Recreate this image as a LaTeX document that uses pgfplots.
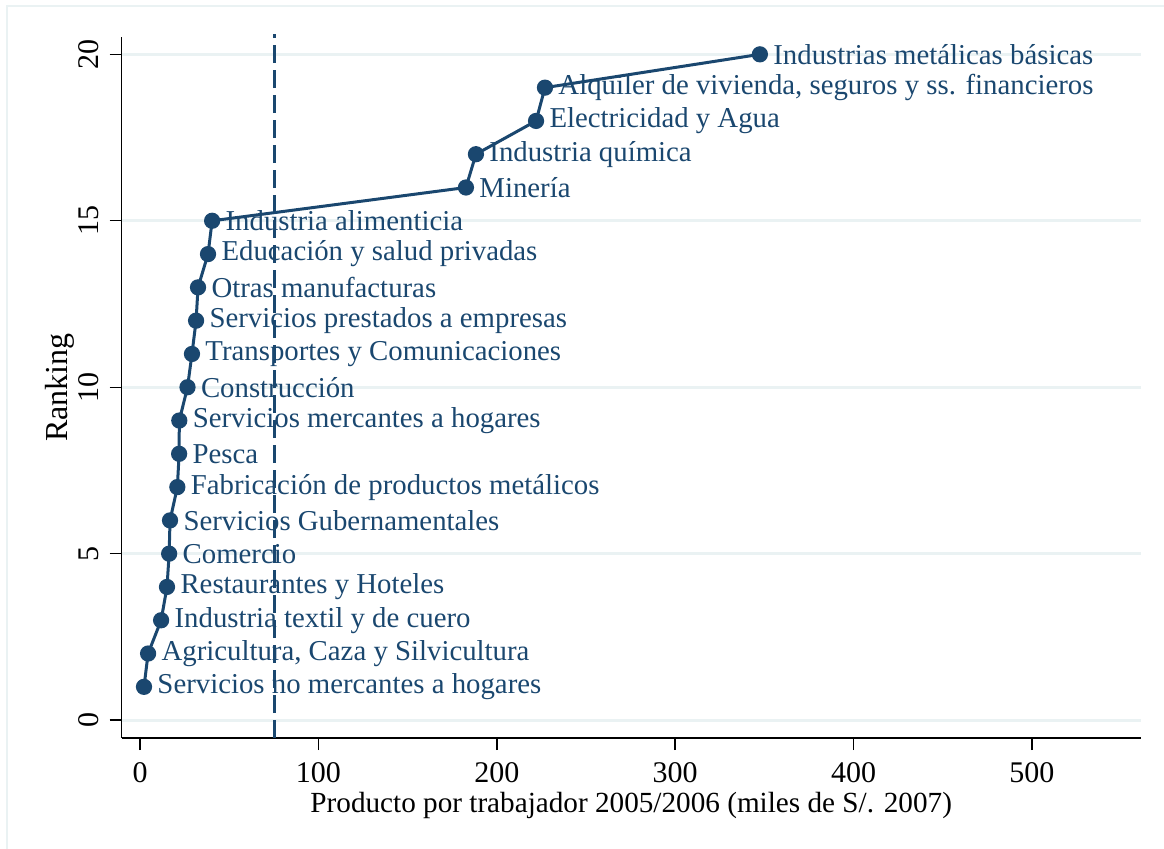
\documentclass[border=0pt]{standalone}
\usepackage{pgfplots}
\pgfplotsset{compat=1.18}
\usepackage{pgfplotstable}
\usepackage{fontspec}
\setmainfont{Liberation Serif}
\definecolor{navy}{HTML}{1A476F}
\definecolor{gridc}{HTML}{EAF2F3}
\pgfplotstableread[col sep=comma]{
x,y,label
2.2,1,Servicios no mercantes a hogares
4.5,2,{Agricultura, Caza y Silvicultura}
11.8,3,Industria textil y de cuero
15.1,4,Restaurantes y Hoteles
16.3,5,Comercio
16.8,6,Servicios Gubernamentales
20.9,7,Fabricación de productos metálicos
21.9,8,Pesca
22.0,9,Servicios mercantes a hogares
26.6,10,Construcción
29.1,11,Transportes y Comunicaciones
31.4,12,Servicios prestados a empresas
32.5,13,Otras manufacturas
38.1,14,Educación y salud privadas
40.4,15,Industria alimenticia
182.7,16,Minería
188.3,17,Industria química
222.0,18,Electricidad y Agua
227.0,19,{Alquiler de vivienda, seguros y ss. financieros}
347.5,20,Industrias metálicas básicas
}\datatab
\begin{document}
\begin{tikzpicture}
\begin{axis}[
  at={(0,0)}, anchor=south west,
  scale only axis, width=509.5pt, height=350.7pt,
  xmin=-10.3, xmax=561, ymin=-0.54, ymax=20.53,
  axis x line*=bottom, axis y line*=left,
  axis line style={black, line width=0.7pt},
  xtick={0,100,...,500}, ytick={0,5,...,20},
  tick align=outside, major tick length=6pt,
  tick style={black, line width=0.7pt},
  ymajorgrids, grid style={gridc, line width=1.5pt},
  /pgf/number format/assume math mode=true,
  ticklabel style={font=\fontsize{15}{17}\selectfont},
  xticklabel style={yshift=-2.5pt},
  yticklabel style={rotate=90, anchor=south, yshift=2pt},
  xlabel={Producto por trabajador 2005/2006 (miles de S/. 2007)},
  ylabel={Ranking},
  label style={font=\fontsize{14.6}{16}\selectfont},
  xlabel style={yshift=2pt},
  ylabel style={yshift=-5pt, font=\fontsize{16}{18}\selectfont},
  clip=false,
]
\addplot[navy, line width=1.4pt, dash pattern=on 9pt off 3.5pt] coordinates {(75.5,-0.54) (75.5,20.6)};
\addplot[navy, line width=1.5pt, mark=*, mark size=3.3pt, mark options={fill=navy, draw=navy},
  point meta=explicit symbolic,
  nodes near coords, nodes near coords style={anchor=west, xshift=5pt, text=navy, font=\fontsize{14.4}{16}\selectfont, inner sep=1pt},
] table[x=x, y=y, meta=label] {\datatab};
\end{axis}
\draw[gridc, line width=1pt] (-57.35pt,-60pt) -- (-57.35pt,366.05pt) -- (530pt,366.05pt);
\pgfresetboundingbox
\path (-60.85pt,-55pt) rectangle (521.15pt,369.05pt);
\end{tikzpicture}
\end{document}
